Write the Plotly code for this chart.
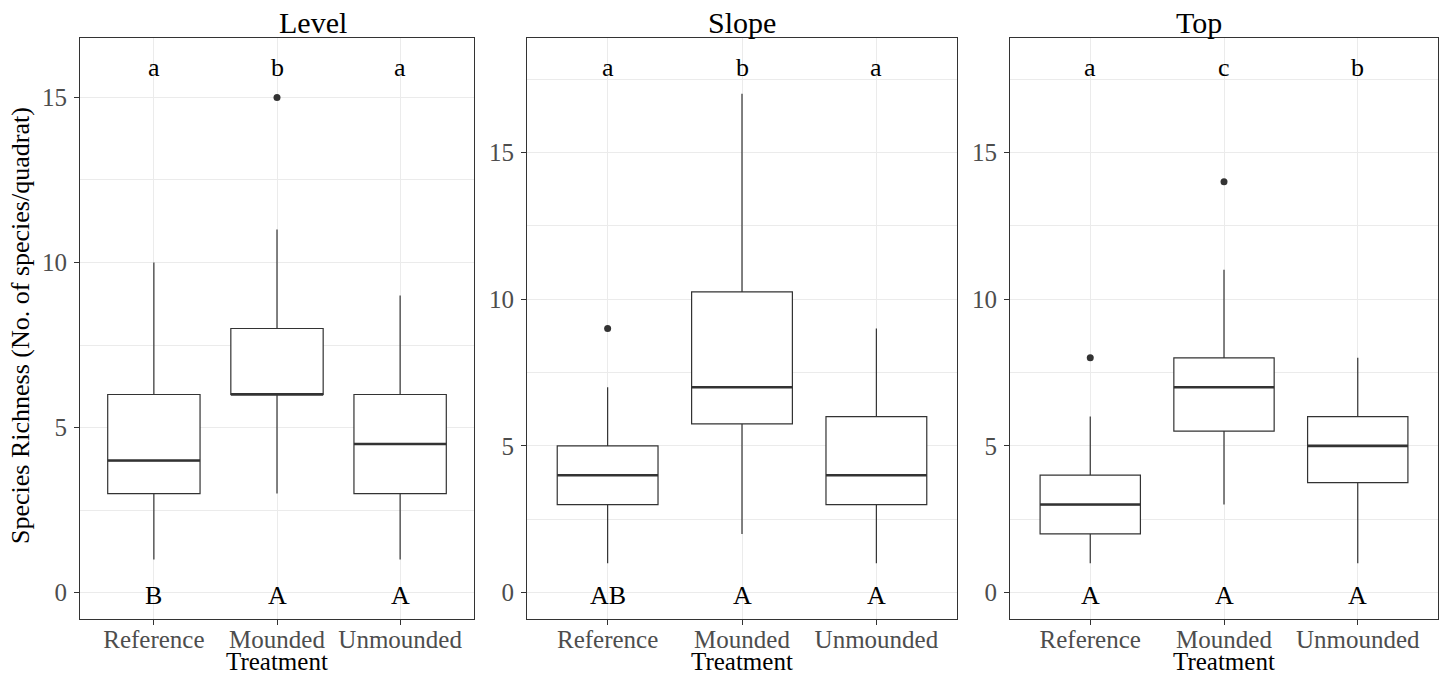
import plotly.graph_objects as go

# Species richness per quadrat, by landform position and treatment
sites = ["Level", "Slope", "Top"]
treatments = ["Reference", "Mounded", "Unmounded"]

# Box statistics (one row per site, columns follow `treatments`)
lower_whisker = [[1, 3, 1], [1, 2, 1], [1, 3, 1]]
q1 = [[3, 6, 3], [3, 5.75, 3], [2, 5.5, 3.75]]
median = [[4, 6, 4.5], [4, 7, 4], [3, 7, 5]]
q3 = [[6, 8, 6], [5, 10.25, 6], [4, 8, 6]]
upper_whisker = [[10, 11, 9], [7, 17, 9], [6, 11, 8]]

# Outlying observations
outlier_site = ["Level", "Slope", "Top", "Top"]
outlier_treatment = ["Mounded", "Reference", "Reference", "Mounded"]
outlier_value = [15, 9, 8, 14]

# Compact-letter displays (top: within site, bottom: across sites)
top_letters = [["a", "b", "a"], ["a", "b", "a"], ["a", "c", "b"]]
bottom_letters = [["B", "A", "A"], ["AB", "A", "A"], ["A", "A", "A"]]
top_letter_y = [16, 18, 18]
bottom_letter_y = 0

FONT = "Liberation Serif, Times New Roman, serif"
INK = "#333333"
GRID = "#EBEBEB"
W, H = 1445, 674

# panel placement in pixels
panel_px = [(80, 474), (527, 957), (1010, 1438)]
plot_top_px, plot_bottom_px = 38, 619
ydom = [(H - plot_bottom_px) / H, (H - plot_top_px) / H]

fig = go.Figure()
box_w = 0.75
xpos = [i + 1 for i in range(len(treatments))]

for k, site in enumerate(sites):
    xa = "x" if k == 0 else f"x{k + 1}"
    ya = "y" if k == 0 else f"y{k + 1}"

    fig.add_trace(go.Box(
        x=xpos, q1=q1[k], median=median[k], q3=q3[k],
        lowerfence=lower_whisker[k], upperfence=upper_whisker[k],
        width=box_w, whiskerwidth=0, boxpoints=False,
        fillcolor="white", line=dict(color=INK, width=1.2),
        xaxis=xa, yaxis=ya, showlegend=False, hoverinfo="skip",
    ))

    # thicker median bars
    mx, my = [], []
    for i, m in enumerate(median[k]):
        mx += [xpos[i] - box_w / 2, xpos[i] + box_w / 2, None]
        my += [m, m, None]
    fig.add_trace(go.Scatter(
        x=mx, y=my, mode="lines", line=dict(color=INK, width=2.6),
        xaxis=xa, yaxis=ya, showlegend=False, hoverinfo="skip",
    ))

    ox = [xpos[treatments.index(t)] for s, t in zip(outlier_site, outlier_treatment) if s == site]
    oy = [v for s, v in zip(outlier_site, outlier_value) if s == site]
    fig.add_trace(go.Scatter(
        x=ox, y=oy, mode="markers", marker=dict(color=INK, size=7),
        xaxis=xa, yaxis=ya, showlegend=False, hoverinfo="skip",
    ))

    # letter annotations
    for i in range(len(treatments)):
        fig.add_annotation(x=xpos[i], y=top_letter_y[k], xref=xa, yref=ya,
                           text=top_letters[k][i], showarrow=False,
                           font=dict(family=FONT, size=26, color="black"),
                           yanchor="middle", yshift=-3)
        fig.add_annotation(x=xpos[i], y=bottom_letter_y, xref=xa, yref=ya,
                           text=bottom_letters[k][i], showarrow=False,
                           font=dict(family=FONT, size=26, color="black"),
                           yanchor="middle", yshift=-3)

    lo, hi = bottom_letter_y, top_letter_y[k]
    pad = 0.05 * (hi - lo)
    x0, x1 = panel_px[k]
    axis_common = dict(
        showline=True, mirror=True, linecolor=INK, linewidth=1,
        ticks="outside", ticklen=5, tickwidth=1, tickcolor=INK,
        showgrid=True, gridcolor=GRID, gridwidth=1, zeroline=False,
        tickfont=dict(family=FONT, size=25, color="#4D4D4D"),
    )
    fig.update_layout(**{
        ("xaxis" if k == 0 else f"xaxis{k + 1}"): dict(
            domain=[x0 / W, x1 / W], anchor=ya, range=[0.4, 3.6],
            tickmode="array", tickvals=xpos, ticktext=treatments,
            ticklabelstandoff=-7, **axis_common),
        ("yaxis" if k == 0 else f"yaxis{k + 1}"): dict(
            domain=ydom, anchor=xa, range=[lo - pad, hi + pad],
            tickmode="linear", tick0=0, dtick=5, ticklabelstandoff=2,
            minor=dict(tick0=0, dtick=2.5, showgrid=True, gridcolor=GRID, gridwidth=1),
            **axis_common),
    })

    # facet strip title and x-axis title
    fig.add_annotation(x=(x0 + x1) / 2 / W, y=(H - 22) / H, xref="paper", yref="paper",
                       text=site, showarrow=False, yanchor="middle",
                       font=dict(family=FONT, size=30, color="black"))
    fig.add_annotation(x=xpos[1], y=(H - 661) / H, xref=xa, yref="paper",
                       text="Treatment", showarrow=False, yanchor="middle",
                       font=dict(family=FONT, size=25, color="black"))

fig.add_annotation(x=20 / W, y=(H - 326) / H,
                   xref="paper", yref="paper", textangle=-90,
                   text="Species Richness (No. of species/quadrat)", showarrow=False,
                   xanchor="center", yanchor="middle",
                   font=dict(family=FONT, size=26, color="black"))

fig.update_layout(
    width=W, height=H, margin=dict(l=0, r=0, t=0, b=0),
    paper_bgcolor="white", plot_bgcolor="white", showlegend=False,
)

fig.write_html("out.html")
